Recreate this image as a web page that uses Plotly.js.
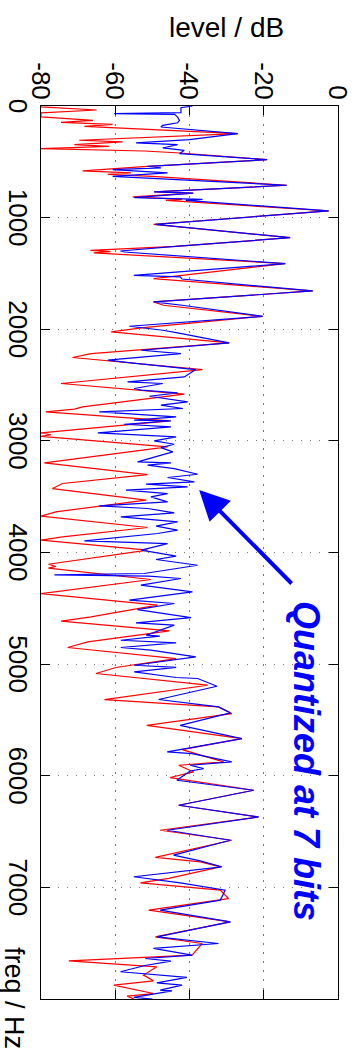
<!DOCTYPE html>
<html>
<head>
<meta charset="utf-8">
<script src="https://cdn.plot.ly/plotly-3.0.1.min.js"></script>
<style>
  html, body { margin: 0; padding: 0; width: 358px; height: 1055px; overflow: hidden; background: #fff; }
  #chart { position: absolute; left: 0; top: 0; width: 1055px; height: 358px;
           transform-origin: 0 0; transform: translate(358px, 0) rotate(90deg); }
</style>
</head>
<body>
<div id="chart"></div>
<script>
// Original spectrum (red)
const freqOriginal = [0,8,36,62,98,128,146,164,182,248,307,322,346,361,382,403,421,481,540,582,600,612,630,710,770,780,815,836,845,940,1060,1180,1257,1293,1305,1316,1412,1546,1657,1755,1785,1884,1985,2023,2122,2218,2253,2361,2486,2582,2695,2715,2740,2821,2928,2945,2960,3054,3197,3302,3382,3427,3531,3636,3675,3776,3860,3890,3979,4105,4125,4140,4242,4368,4472,4577,4615,4702,4801,4851,4950,5030,5084,5189,5318,5383,5443,5548,5667,5766,5876,5906,5966,6016,6130,6264,6369,6488,6578,6732,6771,6816,6920,6959,7025,7100,7204,7309,7443,7503,7607,7658,7712,7786,7837,7876,7951,7974,8000];
const levelOriginal = [-80,-80,-65,-80,-80,-66,-74.6,-60.7,-68.3,-27,-69.7,-58,-71,-61.6,-80,-52.2,-42.5,-19.1,-51.3,-68.8,-55.8,-62,-50,-13.8,-49.5,-39,-55.3,-42,-46.3,-2.5,-49.7,-12.9,-43.8,-66.7,-61.3,-65.8,-14.2,-49.7,-6.8,-49.7,-47,-20.3,-52.4,-61.1,-29.3,-66.5,-71.5,-36.5,-74.6,-41.4,-68.8,-71,-78.7,-45.4,-80,-77.3,-80,-45.9,-79.1,-51.3,-74.2,-76.9,-51.7,-76,-80,-51.3,-74.2,-80,-51.3,-78,-76,-78,-50.4,-80,-48.6,-66.5,-74.6,-45.4,-67.4,-72.8,-43.6,-59.8,-65.2,-35.1,-62.9,-32.2,-28.6,-51.5,-25.9,-42,-30.8,-42.9,-38.9,-45.2,-22.7,-42.9,-21.4,-47.9,-28.6,-49.2,-37.1,-31.7,-45.6,-53.2,-31.7,-29.5,-51,-29,-49.2,-36.6,-39.3,-72.5,-48.8,-52.4,-49.7,-60.4,-49.7,-56.8,-55];

// Quantized at 7 bits (blue)
const freqQuantized = [0,15,60,68,75,100,130,150,173,188,248,301,331,346,376,397,427,481,540,555,570,600,630,710,770,780,821,836,845,940,1060,1180,1257,1299,1308,1412,1517,1530,1550,1657,1755,1785,1884,1973,2009,2032,2122,2188,2218,2277,2301,2361,2427,2471,2486,2531,2546,2570,2600,2651,2680,2710,2740,2785,2815,2821,2851,2874,2928,2964,3000,3030,3060,3098,3188,3197,3218,3248,3299,3328,3367,3388,3412,3442,3472,3502,3546,3582,3606,3645,3681,3726,3764,3800,3830,3896,3920,3979,4033,4063,4114,4188,4200,4212,4233,4293,4353,4427,4457,4511,4583,4630,4651,4741,4750,4786,4810,4851,4875,4935,5010,5030,5069,5120,5129,5180,5198,5317,5383,5437,5548,5667,5786,5801,5876,5906,5936,5957,6040,6130,6264,6369,6488,6578,6711,6762,6816,6905,6959,7025,7114,7204,7309,7443,7503,7547,7607,7637,7660,7700,7756,7807,7855,7876,7921,7927,7986,8000];
const levelQuantized = [-39.2,-42.3,-42.3,-60.3,-44,-43.2,-42.7,-43.2,-47.2,-47.7,-27,-40,-54.4,-43.2,-47.2,-41.4,-42.7,-19.1,-51.3,-47.7,-60.7,-45.9,-60.7,-13.8,-49.5,-39,-54.9,-36.5,-41,-2.5,-49.2,-12.9,-43.8,-58.6,-57.5,-14.2,-55,-42.5,-42,-6.8,-49.7,-42,-20.3,-56.2,-47.2,-43.2,-29.3,-53,-42.3,-62,-55.8,-38.3,-41.4,-56.7,-47.2,-54.9,-53,-43.2,-50.8,-40.5,-47.7,-41.8,-64.3,-43.6,-54.9,-45,-57.6,-45,-64.7,-43.6,-49.5,-44.1,-47.7,-44.5,-54,-45,-51.3,-44.1,-37.8,-45.9,-38.7,-51.7,-40.5,-57.1,-45.9,-50.4,-45.9,-64.3,-51.3,-44.1,-58.5,-43.2,-49,-43.2,-48.6,-68.3,-45.9,-53,-43.6,-49,-37.8,-52.2,-76.4,-51,-42.3,-53.1,-39.2,-56.2,-44.1,-54,-39.6,-54.4,-44.1,-51.7,-48,-58.5,-43.6,-58.5,-50.4,-38.3,-54.9,-43.6,-54.9,-43.6,-37.8,-33.8,-32.6,-48.3,-32.2,-29,-42.5,-25.9,-46,-39.3,-28.6,-39.8,-36.2,-39.8,-43.4,-22.7,-42.9,-21.4,-46,-29,-44.3,-37.1,-31.3,-55,-42.5,-30.4,-31.7,-47.9,-29,-48.8,-32.2,-49.7,-39.3,-51.9,-45,-52,-58.6,-40.7,-48.8,-42,-47.9,-44.7,-55,-50];

// Axis ticks
const freqTicks = [0,1000,2000,3000,4000,5000,6000,7000];
const levelTicks = [-80,-60,-40,-20,0];

const FONT = 'Arial, "Liberation Sans", Helvetica, sans-serif';

const traces = [
  { x: freqOriginal, y: levelOriginal, type: 'scatter', mode: 'lines',
    line: { color: '#ff0000', width: 1.2 }, hoverinfo: 'skip', showlegend: false },
  { x: freqQuantized, y: levelQuantized, type: 'scatter', mode: 'lines',
    line: { color: '#0000ff', width: 1.2 }, hoverinfo: 'skip', showlegend: false }
];

const axisCommon = {
  showline: true, linecolor: '#000', linewidth: 1, mirror: 'ticks',
  ticks: 'inside', ticklen: 9, tickcolor: '#000', tickwidth: 1,
  showgrid: true, gridcolor: '#777', griddash: '1.5px,7.5px', gridwidth: 1,
  zeroline: false, tickfont: { family: FONT, size: 26, color: '#000' }
};

const layout = {
  width: 1055, height: 358,
  margin: { l: 106, r: 56, t: 20, b: 41 },
  paper_bgcolor: '#fff', plot_bgcolor: '#fff',
  showlegend: false,
  xaxis: Object.assign({}, axisCommon, { range: [0, 8000], tickmode: 'array', tickvals: freqTicks,
    ticktext: freqTicks.map(String) }),
  yaxis: Object.assign({}, axisCommon, { range: [-80, 0], tickmode: 'array', tickvals: levelTicks,
    ticktext: levelTicks.map(String) }),
  annotations: [
    { xref: 'paper', yref: 'paper', x: -0.0873, y: 0.623, text: 'level / dB', showarrow: false,
      textangle: -90, font: { family: FONT, size: 28, color: '#000' }, xanchor: 'center', yanchor: 'middle' },
    { xref: 'paper', yref: 'paper', x: 0.999, y: -0.091, text: 'freq / Hz', showarrow: false,
      font: { family: FONT, size: 27, color: '#000' }, xanchor: 'center', yanchor: 'middle' },
    { xref: 'x', yref: 'y', x: 5870, y: -8.6, text: '<b><i>Quantized at 7 bits</i></b>', showarrow: false,
      font: { family: FONT, size: 36, color: '#0000ff' }, xanchor: 'center', yanchor: 'middle' },
    { xref: 'x', yref: 'y', x: 3440, y: -37.4, axref: 'x', ayref: 'y', ax: 4291, ay: -12.1,
      text: '', showarrow: true, arrowhead: 2, arrowsize: 1.5, arrowwidth: 4, arrowcolor: '#0000ff' }
  ]
};

Plotly.newPlot('chart', traces, layout, { staticPlot: true, displayModeBar: false });
</script>
</body>
</html>
